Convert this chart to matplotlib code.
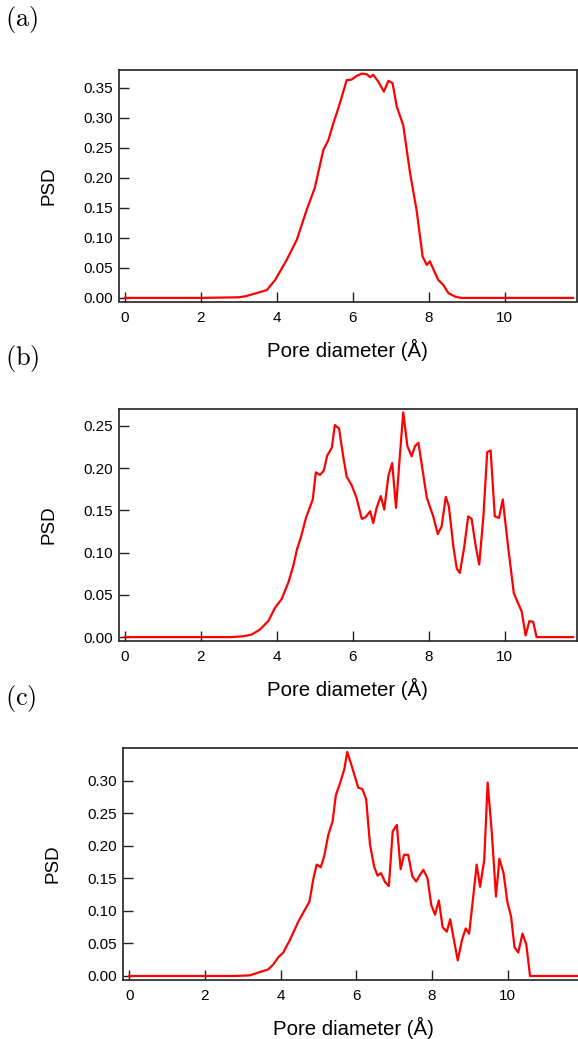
import matplotlib
matplotlib.use("Agg")
import matplotlib.pyplot as plt

plt.rcParams['font.family'] = ['Liberation Sans', 'DejaVu Sans']
plt.rcParams['mathtext.fontset'] = 'cm'

# panel (a)
a_x = [0, 1, 2, 3.0, 3.2, 3.47, 3.74, 3.96, 4.26, 4.53, 4.79, 5.0, 5.23, 5.36, 5.49,
       5.62, 5.74, 5.84, 5.97, 6.10, 6.24, 6.37, 6.46, 6.54, 6.67, 6.82, 6.94, 7.05,
       7.16, 7.33, 7.51, 7.68, 7.84, 7.95, 8.03, 8.25, 8.38, 8.52, 8.7, 8.85, 10, 11.8]
a_y = [0, 0, 0, 0.001, 0.003, 0.008, 0.013, 0.03, 0.063, 0.097, 0.147, 0.183, 0.247,
       0.263, 0.291, 0.316, 0.341, 0.363, 0.364, 0.370, 0.374, 0.373, 0.368, 0.372,
       0.361, 0.344, 0.362, 0.358, 0.319, 0.288, 0.208, 0.147, 0.069, 0.055, 0.061,
       0.03, 0.022, 0.008, 0.002, 0, 0, 0]

# panel (b)
b_x = [0, 2, 2.8, 3.12, 3.34, 3.56, 3.78, 3.96, 4.13, 4.31, 4.44, 4.54, 4.63, 4.77,
       4.95, 5.03, 5.14, 5.24, 5.33, 5.45, 5.53, 5.64, 5.75, 5.84, 5.97, 6.10, 6.24,
       6.34, 6.46, 6.54, 6.63, 6.74, 6.83, 6.94, 7.04, 7.14, 7.23, 7.33, 7.44, 7.55,
       7.64, 7.73, 7.95, 8.12, 8.24, 8.34, 8.45, 8.53, 8.65, 8.74, 8.82, 8.93, 9.04,
       9.13, 9.24, 9.33, 9.44, 9.54, 9.63, 9.74, 9.85, 9.95, 10.09, 10.24, 10.45,
       10.55, 10.65, 10.75, 10.84, 11.8]
b_y = [0, 0, 0, 0.001, 0.003, 0.009, 0.019, 0.035, 0.045, 0.065, 0.085, 0.105, 0.117,
       0.141, 0.163, 0.195, 0.192, 0.197, 0.215, 0.224, 0.251, 0.247, 0.214, 0.190,
       0.180, 0.165, 0.140, 0.142, 0.149, 0.135, 0.153, 0.167, 0.151, 0.191, 0.206,
       0.153, 0.208, 0.266, 0.226, 0.214, 0.226, 0.230, 0.165, 0.143, 0.122, 0.131,
       0.166, 0.155, 0.107, 0.081, 0.076, 0.105, 0.143, 0.140, 0.107, 0.086, 0.143,
       0.219, 0.221, 0.143, 0.141, 0.163, 0.107, 0.052, 0.030, 0.002, 0.019, 0.018,
       0.0, 0.0]

# panel (c)
c_x = [0, 2, 2.8, 3.19, 3.45, 3.67, 3.81, 3.94, 4.07, 4.25, 4.47, 4.76, 4.86, 4.95,
       5.06, 5.15, 5.26, 5.37, 5.46, 5.57, 5.68, 5.76, 5.88, 6.05, 6.16, 6.26, 6.36,
       6.47, 6.56, 6.65, 6.76, 6.86, 6.96, 7.07, 7.17, 7.26, 7.37, 7.48, 7.58, 7.68,
       7.77, 7.88, 7.98, 8.08, 8.18, 8.28, 8.39, 8.48, 8.58, 8.68, 8.79, 8.89, 8.98,
       9.08, 9.18, 9.27, 9.38, 9.47, 9.58, 9.69, 9.78, 9.89, 9.99, 10.09, 10.18,
       10.28, 10.39, 10.49, 10.59, 11.86]
c_y = [0, 0, 0, 0.001, 0.006, 0.010, 0.018, 0.029, 0.036, 0.056, 0.084, 0.114, 0.148,
       0.171, 0.167, 0.184, 0.217, 0.237, 0.278, 0.296, 0.317, 0.344, 0.322, 0.289,
       0.287, 0.271, 0.202, 0.168, 0.154, 0.158, 0.144, 0.138, 0.222, 0.232, 0.164,
       0.186, 0.186, 0.153, 0.145, 0.155, 0.163, 0.150, 0.109, 0.094, 0.116, 0.075,
       0.068, 0.087, 0.055, 0.024, 0.055, 0.073, 0.065, 0.117, 0.171, 0.137, 0.178,
       0.297, 0.220, 0.122, 0.180, 0.158, 0.114, 0.091, 0.044, 0.036, 0.065, 0.049,
       0.0, 0.0]

x_ticks = [0, 2, 4, 6, 8, 10]
a_yticks = [0.00, 0.05, 0.10, 0.15, 0.20, 0.25, 0.30, 0.35]
b_yticks = [0.00, 0.05, 0.10, 0.15, 0.20, 0.25]
c_yticks = [0.00, 0.05, 0.10, 0.15, 0.20, 0.25, 0.30]

W, H = 578, 1039
fig = plt.figure(figsize=(W / 100, H / 100), dpi=100)


def make_axes(left, top, right, bottom):
    return fig.add_axes([left / W, 1 - bottom / H, (right - left) / W, (bottom - top) / H])


panels = [
    (make_axes(119, 70, 576.5, 301.5), a_x, a_y, a_yticks, (-0.15, 11.89), (-0.006, 0.380), '(a)', 4),
    (make_axes(119, 409, 576.5, 640.5), b_x, b_y, b_yticks, (-0.15, 11.89), (-0.004, 0.270), '(b)', 343),
    (make_axes(123, 748, 583, 979.5), c_x, c_y, c_yticks, (-0.167, 11.99), (-0.0054, 0.350), '(c)', 683),
]

for ax, xs, ys, yt, xl, yl, tag, ty in panels:
    ax.plot(xs, ys, color='#ff0000', lw=1.6)
    ax.set_xlim(*xl)
    ax.set_ylim(*yl)
    ax.set_xticks(x_ticks)
    ax.set_yticks(yt)
    ax.set_yticklabels(['%.2f' % v for v in yt])
    ax.tick_params(direction='in', length=7, width=1.0, labelsize=11, color='#222222')
    ax.tick_params(axis='x', pad=7)
    ax.tick_params(axis='y', pad=4)
    for s in ax.spines.values():
        s.set_linewidth(1.2)
        s.set_color('#222222')
    ax.set_xlabel('Pore diameter (Å)', fontsize=14.7, labelpad=10)
    ax.set_ylabel('PSD', fontsize=13.5, labelpad=19)
    fig.text(5 / W, 1 - ty / H, r'$\mathrm{' + tag + '}$', fontsize=19, va='top', ha='left')

fig.savefig('out.png', dpi=100)
